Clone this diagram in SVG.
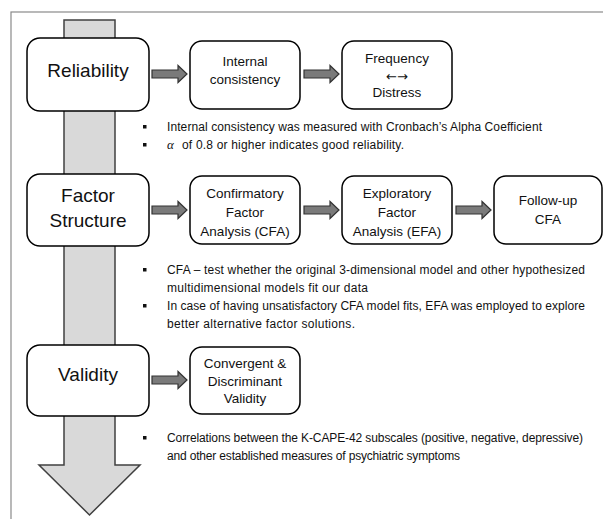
<svg xmlns="http://www.w3.org/2000/svg" width="603" height="519" viewBox="0 0 603 519">
<defs>
<style>
.frame{fill:none;stroke:#8a8a8a;stroke-width:1.2}
.shaft{fill:#d9d9d9;stroke:#404040;stroke-width:1.5;stroke-linejoin:miter}
.box{fill:#ffffff;stroke:#000000;stroke-width:1.5}
.arr{fill:#7a7a7a;stroke:#333333;stroke-width:1.2;stroke-linejoin:miter}
.main{font-family:"Liberation Sans",Arial,sans-serif;font-size:19px;fill:#111;text-anchor:middle}
.lbl{font-family:"Liberation Sans",Arial,sans-serif;font-size:13.5px;fill:#111;text-anchor:middle}
.sym{font-family:"DejaVu Sans",sans-serif;font-size:13px;fill:#111;text-anchor:middle}
.bt{font-family:"Liberation Sans",Arial,sans-serif;font-size:12px;fill:#111}
.bul{fill:#111}
</style>
</defs>
<rect width="603" height="519" fill="#ffffff"/>
<rect class="frame" x="11" y="12" width="640" height="540"/>
<polygon class="shaft" points="64,20 115,20 115,465 140,465 89.5,515 39,465 64,465"/>

<g id="connectors">
<polygon class="arr" points="152,70 178,70 178,65.5 187,74 178,82.5 178,78 152,78"/>
<polygon class="arr" points="304,70 330,70 330,65.5 339,74 330,82.5 330,78 304,78"/>
<polygon class="arr" points="152,206 178,206 178,201.5 187,210 178,218.5 178,214 152,214"/>
<polygon class="arr" points="304,206 330,206 330,201.5 339,210 330,218.5 330,214 304,214"/>
<polygon class="arr" points="456,206 482,206 482,201.5 491,210 482,218.5 482,214 456,214"/>
<polygon class="arr" points="152,376 178,376 178,371.5 187,380 178,388.5 178,384 152,384"/>
</g>

<g id="reliability">
<rect class="box" x="27" y="38" width="122" height="73" rx="13"/>
<text class="main" x="88" y="77">Reliability</text>
</g>
<g id="internal-consistency">
<rect class="box" x="190" y="41" width="110" height="68" rx="12"/>
<text class="lbl" x="245" y="66">Internal</text>
<text class="lbl" x="245" y="84">consistency</text>
</g>
<g id="frequency-distress">
<rect class="box" x="342" y="41" width="110" height="68" rx="12"/>
<text class="lbl" x="397" y="63">Frequency</text>
<text class="sym" x="397" y="81">←→</text>
<text class="lbl" x="397" y="97">Distress</text>
</g>
<g id="reliability-notes">
<rect class="bul" x="143" y="125" width="3.5" height="3.5"/>
<text class="bt" x="167" y="131" textLength="375">Internal consistency was measured with Cronbach’s Alpha Coefficient</text>
<rect class="bul" x="143" y="143" width="3.5" height="3.5"/>
<text class="bt" x="167" y="149"><tspan font-family="Liberation Serif" font-style="italic" font-size="13">α</tspan><tspan x="182" textLength="222">of 0.8 or higher indicates good reliability.</tspan></text>
</g>

<g id="factor-structure">
<rect class="box" x="27" y="174" width="122" height="72" rx="13"/>
<text class="main" x="88" y="202">Factor</text>
<text class="main" x="88" y="227">Structure</text>
</g>
<g id="cfa">
<rect class="box" x="190" y="176" width="110" height="68" rx="12"/>
<text class="lbl" x="245" y="198">Confirmatory</text>
<text class="lbl" x="245" y="217">Factor</text>
<text class="lbl" x="245" y="236">Analysis (CFA)</text>
</g>
<g id="efa">
<rect class="box" x="342" y="176" width="110" height="68" rx="12"/>
<text class="lbl" x="397" y="198">Exploratory</text>
<text class="lbl" x="397" y="217">Factor</text>
<text class="lbl" x="397" y="236">Analysis (EFA)</text>
</g>
<g id="follow-up-cfa">
<rect class="box" x="494" y="176" width="108" height="68" rx="12"/>
<text class="lbl" x="548" y="205">Follow-up</text>
<text class="lbl" x="548" y="224">CFA</text>
</g>
<g id="factor-notes">
<rect class="bul" x="143" y="268" width="3.5" height="3.5"/>
<text class="bt" x="167" y="274" textLength="418">CFA – test whether the original 3-dimensional model and other hypothesized</text>
<text class="bt" x="167" y="292" textLength="201">multidimensional models fit our data</text>
<rect class="bul" x="143" y="304" width="3.5" height="3.5"/>
<text class="bt" x="167" y="310" textLength="418">In case of having unsatisfactory CFA model fits, EFA was employed to explore</text>
<text class="bt" x="167" y="328" textLength="188">better alternative factor solutions.</text>
</g>

<g id="validity">
<rect class="box" x="27" y="345" width="122" height="71" rx="13"/>
<text class="main" x="88" y="381">Validity</text>
</g>
<g id="convergent-discriminant">
<rect class="box" x="190" y="347" width="110" height="67" rx="12"/>
<text class="lbl" x="245" y="368">Convergent &amp;</text>
<text class="lbl" x="245" y="386">Discriminant</text>
<text class="lbl" x="245" y="403">Validity</text>
</g>
<g id="validity-notes">
<rect class="bul" x="143" y="436" width="3.5" height="3.5"/>
<text class="bt" x="167" y="442" textLength="416">Correlations between the K-CAPE-42 subscales (positive, negative, depressive)</text>
<text class="bt" x="167" y="460" textLength="293">and other established measures of psychiatric symptoms</text>
</g>
</svg>
